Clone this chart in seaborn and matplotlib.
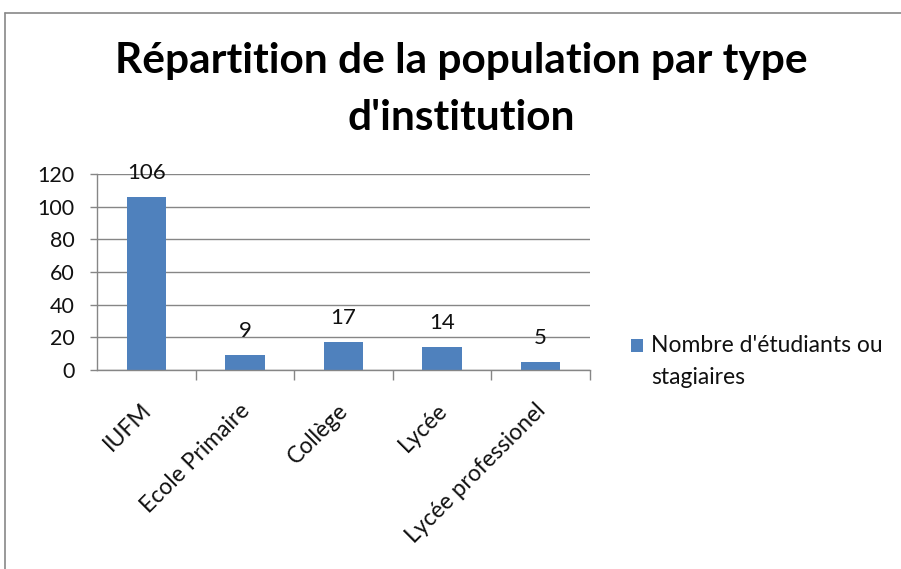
import matplotlib
matplotlib.use("Agg")
import matplotlib.pyplot as plt
import matplotlib.transforms as mtransforms
import seaborn as sns
import pandas as pd
from matplotlib.lines import Line2D
from matplotlib.patches import Rectangle

categories = ["IUFM", "Ecole Primaire", "Collège", "Lycée", "Lycée professionel"]
values = [106, 9, 17, 14, 5]
yticks = [0, 20, 40, 60, 80, 100, 120]
series_name = "Nombre d'étudiants ou\nstagiaires"
title_lines = ["Répartition de la population par type", "d'institution"]

sns.set_theme(style="white")
plt.rcParams['font.family'] = ['Lato', 'DejaVu Sans']

BAR = "#4F81BD"
GRID = "#868686"
TXT = "#111111"

fig = plt.figure(figsize=(9.01, 5.69), dpi=100)
W, H = 901, 569
ax = fig.add_axes([97 / W, 1 - 370 / H, (590 - 97) / W, (370 - 174) / H])

df = pd.DataFrame({"cat": categories, "val": values})
sns.barplot(data=df, x="cat", y="val", color=BAR, width=0.40, ax=ax,
            saturation=1, edgecolor="none")

ax.set_xlim(-0.5, len(categories) - 0.5)
ax.set_ylim(0, 120)
ax.set_yticks(yticks)
ax.set_yticklabels([str(v) for v in yticks], fontsize=15.5, color=TXT)
ax.yaxis.grid(True, color=GRID, linewidth=1)
ax.set_axisbelow(True)
ax.set_xlabel("")
ax.set_ylabel("")

for s in ["top", "right"]:
    ax.spines[s].set_visible(False)
for s in ["left", "bottom"]:
    ax.spines[s].set_color(GRID)
    ax.spines[s].set_linewidth(1)

ax.tick_params(axis="y", which="major", length=5, color=GRID, width=1, pad=11, left=True)
ax.set_xticks(range(len(categories)))
ax.set_xticklabels(categories, rotation=45, ha="right", rotation_mode="anchor",
                   fontsize=16.5, color=TXT)
ax.tick_params(axis="x", which="major", length=0, pad=14)
ax.set_xticks([i + 0.5 for i in range(len(categories))], minor=True)
ax.tick_params(axis="x", which="minor", length=7, color=GRID, width=1, bottom=True)
shift = mtransforms.ScaledTranslation(-6 / 100, -10 / 100, fig.dpi_scale_trans)
for lab in ax.get_xticklabels():
    lab.set_transform(lab.get_transform() + shift)

for i, v in enumerate(values):
    ax.annotate(str(v), (i, v), xytext=(0, 24), textcoords="offset pixels",
                ha="center", va="center", fontsize=16, color=TXT)

fig.text(461 / W, 1 - 73 / H, title_lines[0], ha="center", va="baseline", fontsize=30.5,
         fontweight="bold", color="#000000")
fig.text(461 / W, 1 - 130 / H, title_lines[1], ha="center", va="baseline", fontsize=30.5,
         fontweight="bold", color="#000000")

# legend
fig.add_artist(Rectangle((631 / W, 1 - 352 / H), 12 / W, 13 / H,
                         transform=fig.transFigure, facecolor=BAR, edgecolor="none"))
lines = series_name.split("\n")
fig.text(651 / W, 1 - 345 / H, lines[0], ha="left", va="center", fontsize=16.5, color=TXT)
fig.text(651 / W, 1 - 377 / H, lines[1], ha="left", va="center", fontsize=16.5, color=TXT)

# outer border
fig.add_artist(Line2D([5 / W, 1.0], [1 - 13 / H, 1 - 13 / H], transform=fig.transFigure,
                      color="#888888", linewidth=1.2))
fig.add_artist(Line2D([5 / W, 5 / W], [0, 1 - 13 / H], transform=fig.transFigure,
                      color="#888888", linewidth=1.2))

fig.savefig("out.png", dpi=100, facecolor="white")
